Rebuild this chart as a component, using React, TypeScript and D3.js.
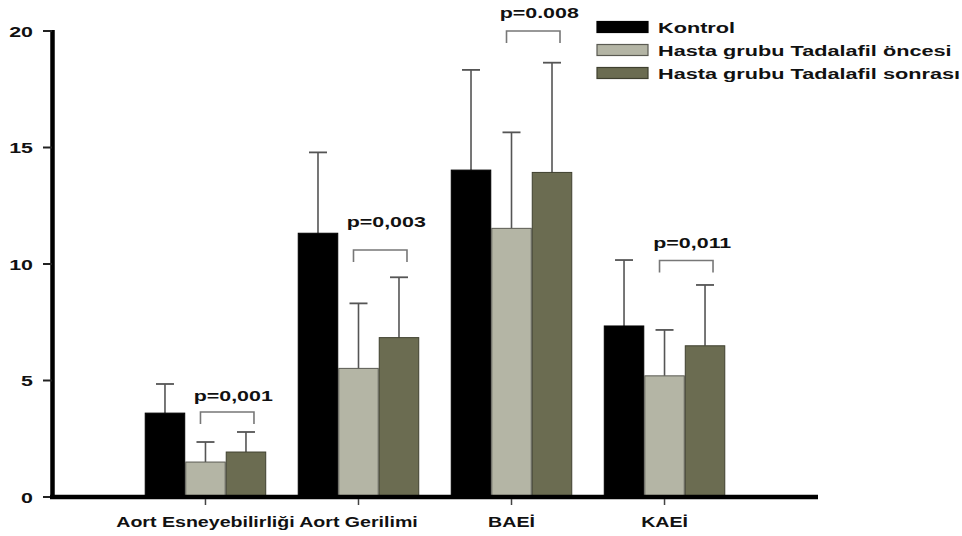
import React from "react";
import * as d3 from "d3";

// values
const categories = ["Aort Esneyebilirliği", "Aort Gerilimi", "BAEİ", "KAEİ"];
const seriesNames = ["Kontrol", "Hasta grubu Tadalafil öncesi", "Hasta grubu Tadalafil sonrası"];
const kontrol = [3.6, 11.32, 14.03, 7.34];
const oncesi = [1.5, 5.52, 11.53, 5.2];
const sonrasi = [1.93, 6.84, 13.93, 6.49];
const kontrolErr = [1.25, 3.47, 4.3, 2.83];
const oncesiErr = [0.86, 2.79, 4.12, 1.97];
const sonrasiErr = [0.86, 2.59, 4.71, 2.61];
const pLabels = ["p=0,001", "p=0,003", "p=0.008", "p=0,011"];
const bracketLevel = [3.65, 10.6, 20.0, 10.15];
const pLabelLevel = [4.12, 11.59, 20.56, 10.69];
const yTicks = [0, 5, 10, 15, 20];

const colors = ["#000000", "#b4b5a5", "#6b6c51"];
const strokes = ["#000000", "#5a5a52", "#3f402f"];

const W = 962;
const H = 536;
const SX = 1.4; // the reference is stretched sideways
const FONT = "'Liberation Sans', Arial, sans-serif";

function T(props: any) {
  const { x, y, anchor, size, children, fill } = props;
  return (
    <text
      transform={`translate(${x},${y}) scale(${SX},1)`}
      textAnchor={anchor || "start"}
      fontSize={size}
      fontWeight="bold"
      fontFamily={FONT}
      fill={fill || "#111"}
    >
      {children}
    </text>
  );
}

export default function App() {
  const series = [kontrol, oncesi, sonrasi];
  const errs = [kontrolErr, oncesiErr, sonrasiErr];

  const y = d3.scaleLinear().domain([0, 20]).range([497, 31]);
  const x0 = d3
    .scaleBand<string>()
    .domain(categories)
    .range([52, 818])
    .paddingInner(0.206)
    .paddingOuter(0.606);
  const x1 = d3
    .scaleBand<number>()
    .domain([0, 1, 2])
    .range([0, x0.bandwidth()]);
  const bw = x1.bandwidth();

  return (
    <svg width={W} height={H} style={{ position: "absolute", left: 0, top: 0, background: "#fff" }}>
      {/* bars and error bars */}
      {categories.map((c, i) => (
        <g key={c} transform={`translate(${x0(c)},0)`}>
          {series.map((s, k) => {
            const bx = x1(k)!;
            const cx = bx + bw / 2;
            const top = y(s[i]);
            const et = y(s[i] + errs[k][i]);
            return (
              <g key={k}>
                <line x1={cx} x2={cx} y1={top} y2={et} stroke="#555" strokeWidth={1.6} />
                <line x1={cx - 9} x2={cx + 9} y1={et} y2={et} stroke="#555" strokeWidth={1.8} />
                <rect
                  x={bx + 0.5}
                  y={top}
                  width={bw - 1}
                  height={y(0) - top}
                  fill={colors[k]}
                  stroke={strokes[k]}
                  strokeWidth={1}
                />
              </g>
            );
          })}
        </g>
      ))}

      {/* significance brackets */}
      {categories.map((c, i) => {
        const left = x0(c)! + x1(1)! + bw / 2 - 5;
        const right = x0(c)! + x1(2)! + bw / 2 + 8;
        const by = y(bracketLevel[i]);
        return (
          <g key={"b" + c}>
            <path
              d={`M${left},${by + 12}V${by}H${right}V${by + 12}`}
              fill="none"
              stroke="#777"
              strokeWidth={1.6}
            />
            <T x={(left + right) / 2 + 6} y={y(pLabelLevel[i])} anchor="middle" size={15.3}>
              {pLabels[i]}
            </T>
          </g>
        );
      })}

      {/* y axis */}
      <line x1={52.5} x2={52.5} y1={y(20) - 1} y2={y(0) + 2} stroke="#000" strokeWidth={4.5} />
      {yTicks.map((t) => (
        <g key={t}>
          <line x1={43} x2={52} y1={y(t)} y2={y(t)} stroke="#222" strokeWidth={2} />
          <T x={33} y={y(t) + 5.5} anchor="end" size={15.3}>
            {t}
          </T>
        </g>
      ))}

      {/* x axis */}
      <line x1={50} x2={818} y1={497} y2={497} stroke="#000" strokeWidth={4.5} />
      {categories.map((c) => {
        const cx = x0(c)! + x0.bandwidth() / 2;
        return (
          <g key={"x" + c}>
            <line x1={cx} x2={cx} y1={499} y2={505} stroke="#444" strokeWidth={1.5} />
            <T x={cx} y={527} anchor="middle" size={14}>
              {c}
            </T>
          </g>
        );
      })}

      {/* legend */}
      {seriesNames.map((n, k) => {
        const ly = 27 + k * 23;
        return (
          <g key={n}>
            <rect x={597} y={ly - 5.5} width={51} height={11} fill={colors[k]} stroke={strokes[k]} strokeWidth={1.2} />
            <T x={658} y={ly + 5.5} size={15.5}>
              {n}
            </T>
          </g>
        );
      })}
    </svg>
  );
}
